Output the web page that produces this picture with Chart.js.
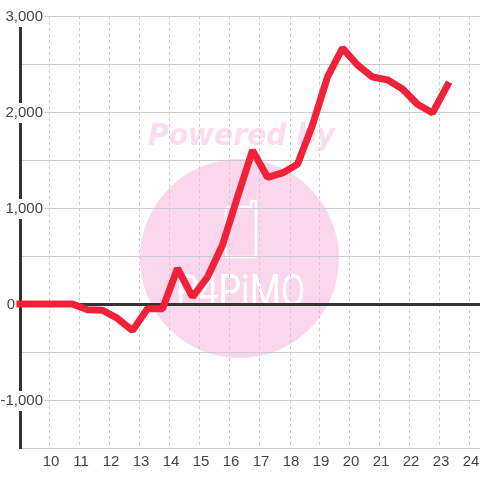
<!DOCTYPE html>
<html>
<head>
<meta charset="utf-8">
<style>
  html, body { margin: 0; padding: 0; background: #fff; }
  canvas { display: block; }
</style>
<script src="https://cdn.jsdelivr.net/npm/chart.js@4/dist/chart.umd.min.js"></script>
</head>
<body>
<canvas id="chart" width="480" height="480"></canvas>
<script>
const hours = [9, 9.75, 10.25, 10.75, 11.25, 11.75, 12.25, 12.75, 13.25, 13.75, 14.25, 14.75, 15.25, 15.75, 16.25, 16.75, 17.25, 17.75, 18.25, 18.75, 19.25, 19.75, 20.25, 20.75, 21.25, 21.75, 22.25, 22.75, 23.25];
const values = [0, 0, 0, 0, -60, -65, -150, -275, -50, -50, 370, 75, 280, 615, 1115, 1600, 1320, 1365, 1455, 1865, 2365, 2665, 2490, 2365, 2335, 2240, 2080, 1990, 2280];

const lineColor = "#f02138";
const axisColor = "#333333";
const gridColor = "#cccccc";
const textColor = "#444444";

// the pale logo sits behind the grid
const watermark = {
  id: "watermark",
  beforeDraw(chart) {
    const ctx = chart.ctx;
    ctx.save();
    ctx.fillStyle = "#fff";
    ctx.fillRect(0, 0, 480, 480);

    ctx.fillStyle = "#fbd6ed";
    ctx.beginPath();
    ctx.arc(239.5, 258.5, 99.5, 0, Math.PI * 2);
    ctx.fill();

    ctx.save();
    ctx.fillStyle = "#fcdcf0";
    ctx.font = "italic bold 30px 'DejaVu Sans'";
    ctx.textBaseline = "alphabetic";
    ctx.translate(148, 145);
    ctx.scale(0.94, 1);
    ctx.fillText("Powered by", 0, 0);
    ctx.restore();

    ctx.strokeStyle = "#fff";
    ctx.lineWidth = 2.5;
    ctx.lineJoin = "round";
    ctx.beginPath();
    ctx.moveTo(226, 209);
    ctx.lineTo(226, 254);
    ctx.quadraticCurveTo(226, 257, 229, 257);
    ctx.lineTo(254, 257);
    ctx.quadraticCurveTo(256, 257, 256, 254);
    ctx.lineTo(256, 201);
    ctx.lineTo(251, 201);
    ctx.lineTo(251, 207);
    ctx.lineTo(228, 207);
    ctx.closePath();
    ctx.stroke();

    // logo lettering, squeezed sideways to fit under the phone
    ctx.fillStyle = "#fff";
    ctx.font = "400 44px Roboto";
    ctx.translate(176, 306);
    ctx.scale(0.81, 1);
    ctx.fillText("P4PiMO", 0, 0);
    ctx.restore();
  }
};

new Chart(document.getElementById("chart"), {
  type: "line",
  data: {
    datasets: [{
      data: hours.map((h, i) => ({ x: h, y: values[i] })),
      borderColor: lineColor,
      borderWidth: 7,
      borderCapStyle: "square",
      borderJoinStyle: "bevel",
      tension: 0,
      pointRadius: 0,
      clip: false
    }]
  },
  options: {
    responsive: false,
    animation: false,
    layout: { padding: { top: 16, right: 0, left: 0, bottom: 0 } },
    plugins: { legend: { display: false }, tooltip: { enabled: false } },
    scales: {
      x: {
        type: "linear",
        min: 9,
        max: 9 + 460 / 30,
        afterFit: s => { s.height = 32; },
        border: { display: false, dash: [3, 3] },
        grid: { color: gridColor, lineWidth: 1, drawTicks: true, tickLength: 5, tickColor: "rgba(0,0,0,0)" },
        ticks: {
          stepSize: 1,
          includeBounds: false,
          autoSkip: false,
          maxRotation: 0,
          padding: 0,
          labelOffset: 1,
          color: textColor,
          font: { family: "'Liberation Sans'", size: 15 },
          callback: v => (v === 9 ? "" : String(v))
        }
      },
      y: {
        min: -1500,
        max: 3000,
        // labels hang over the plot, so switch off the clip to the axis box
        afterFit: s => { s.width = 20; s._computeLabelArea = () => undefined; },
        border: { color: axisColor, width: 3 },
        grid: {
          drawTicks: false,
          color: c => (c.tick.value === 0 ? axisColor : gridColor),
          lineWidth: c => (c.tick.value === 0 ? 3 : 1)
        },
        ticks: {
          stepSize: 500,
          autoSkip: false,
          padding: -23,
          labelOffset: 1,
          color: textColor,
          font: { family: "'Liberation Sans'", size: 15 },
          showLabelBackdrop: true,
          backdropPadding: 1,
          backdropColor: c => (c.tick.value % 1000 === 0 && c.tick.value !== -1500 && c.tick.value !== 0 ? "#fff" : "rgba(0,0,0,0)"),
          // the 0 sits left of the axis in the original, trailing spaces push it there
          callback: v => {
            if (v === 0) return "0" + "\u00a0".repeat(6) + "\u2009";
            return v % 1000 === 0 ? v.toLocaleString("en-US") : "";
          }
        }
      }
    }
  },
  plugins: [watermark]
});
</script>
</body>
</html>
